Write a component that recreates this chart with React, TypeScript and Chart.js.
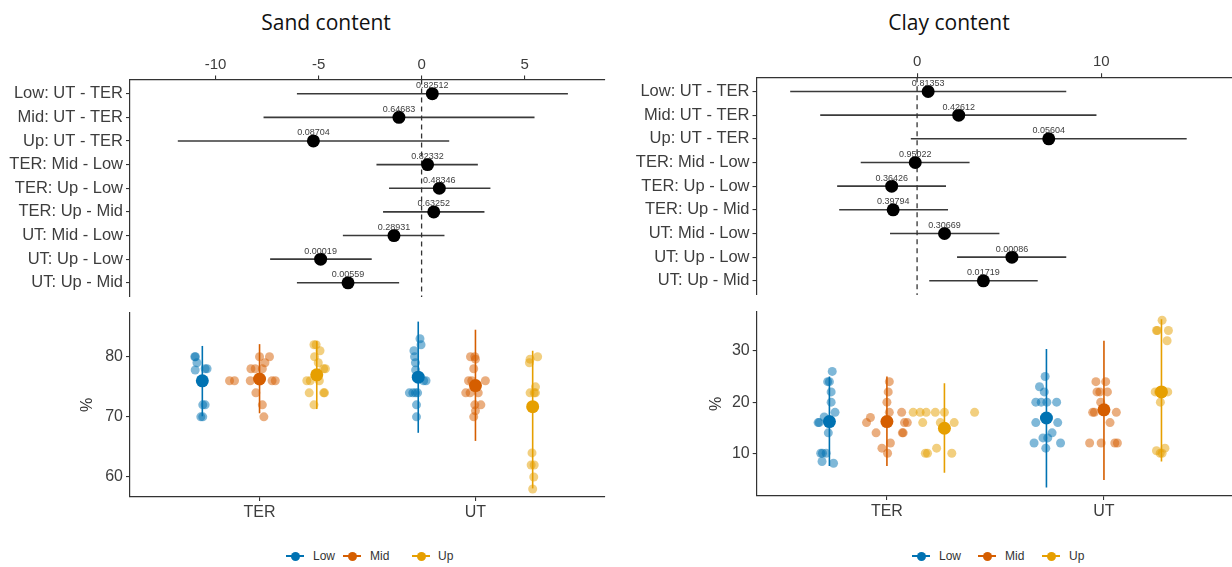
import React, { useEffect, useRef } from 'react';
import { Chart, registerables } from 'chart.js';
Chart.register(...registerables);

// ---------- contrast (forest) data ----------
const contrastLabels = [
  'Low: UT - TER', 'Mid: UT - TER', 'Up: UT - TER',
  'TER: Mid - Low', 'TER: Up - Low', 'TER: Up - Mid',
  'UT: Mid - Low', 'UT: Up - Low', 'UT: Up - Mid',
];

const sandDiff = [0.52, -1.1, -5.25, 0.29, 0.86, 0.59, -1.34, -4.9, -3.57];
const sandLwr = [-6.05, -7.67, -11.83, -2.19, -1.58, -1.87, -3.82, -7.35, -6.05];
const sandUpr = [7.1, 5.48, 1.34, 2.73, 3.34, 3.05, 1.11, -2.42, -1.09];
const sandP = ['0.82512', '0.64683', '0.08704', '0.82332', '0.48346', '0.63252', '0.28931', '0.00019', '0.00559'];

const clayDiff = [0.6, 2.26, 7.15, -0.1, -1.38, -1.3, 1.49, 5.15, 3.6];
const clayLwr = [-6.89, -5.26, -0.34, -3.06, -4.34, -4.23, -1.47, 2.17, 0.66];
const clayUpr = [8.1, 9.74, 14.64, 2.85, 1.57, 1.68, 4.47, 8.1, 6.55];
const clayP = ['0.81353', '0.42612', '0.05604', '0.95022', '0.36426', '0.39794', '0.30669', '0.00086', '0.01719'];

const sandDiffTicks = [-10, -5, 0, 5];
const clayDiffTicks = [0, 10];

// ---------- raw observations ----------
const sites = ['TER', 'UT'];
const levels = ['Low', 'Mid', 'Up'];
const levelColors = ['#0072B2', '#D55E00', '#E69F00'];

const sandTicks = [60, 70, 80];
const clayTicks = [10, 20, 30];

const sandTerLow = [80, 80, 79, 77.8, 78, 78, 72, 72, 70, 70];
const sandTerLowJit = [-0.035, -0.032, -0.025, -0.033, 0.013, 0.022, 0.002, 0.013, -0.007, 0.002];
const sandTerMid = [80, 80, 79, 78, 78, 78, 76, 76, 76, 76, 76, 74, 72, 70];
const sandTerMidJit = [0, 0.046, 0.025, -0.04, -0.02, 0.013, -0.139, -0.116, -0.043, 0.058, 0.073, -0.017, 0.013, 0.02];
const sandTerUp = [82, 82, 81, 80, 79, 78, 78, 76, 76, 76, 74, 74, 74, 72];
const sandTerUpJit = [-0.013, -0.003, 0.015, -0.01, 0.007, 0.032, 0.04, -0.046, -0.03, 0.012, -0.035, 0.032, 0.036, -0.013];
const sandUtLow = [83, 82, 81, 80, 79, 77.8, 76, 76, 74, 74, 74, 74, 72, 70];
const sandUtLowJit = [0.008, 0.013, -0.02, -0.017, -0.013, -0.012, 0.025, 0.036, -0.041, -0.025, -0.013, -0.003, -0.008, -0.008];
const sandUtMid = [80, 80, 79.6, 78, 76, 76, 76, 74, 74, 74, 72, 72, 71, 70];
const sandUtMidJit = [-0.023, -0.003, 0, -0.008, -0.032, -0.017, 0.046, -0.045, -0.025, 0.013, -0.003, 0.025, 0, -0.008];
const sandUtUp = [79.6, 79, 80, 75, 74, 74, 74, 64, 62, 62, 60, 58];
const sandUtUpJit = [-0.012, -0.015, 0.023, 0.013, -0.012, 0.007, 0.013, -0.003, -0.007, 0.007, 0.005, 0];

// order: TER-Low, TER-Mid, TER-Up, UT-Low, UT-Mid, UT-Up
const sandMean = [76.0, 76.3, 77.0, 76.6, 75.2, 71.7];
const sandRangeLo = [70.1, 70.6, 71.3, 67.35, 66.0, 58.1];
const sandRangeHi = [81.8, 82.1, 82.6, 85.85, 84.5, 81.0];

const clayTerLow = [26, 24, 24, 22, 20, 18, 17.1, 16, 16, 14, 10, 10, 10, 8.4, 8.05];
const clayTerLowJit = [0.013, -0.008, 0, 0.008, 0.008, 0.026, -0.024, -0.052, -0.047, -0.005, -0.04, -0.032, -0.015, -0.034, 0.019];
const clayTerMid = [24, 22, 20, 18, 18, 16, 17, 16, 16, 14, 14, 14, 11, 12, 10];
const clayTerMidJit = [0.011, 0.006, 0, 0.011, 0.068, -0.094, -0.076, 0.081, 0.094, -0.05, 0.071, 0.075, -0.023, 0.016, 0.003];
const clayTerUp = [18, 18, 18, 18, 18, 18, 16, 16, 16, 10, 10, 11, 10];
const clayTerUpJit = [-0.144, -0.112, -0.084, -0.042, 0, 0.139, -0.1, -0.019, 0.045, -0.088, -0.078, -0.036, 0.034];
const clayUtLow = [25, 23, 22, 20, 20, 20, 20, 16, 16, 14, 13, 13, 11, 12, 12];
const clayUtLowJit = [-0.006, -0.032, -0.01, -0.049, -0.024, 0.002, 0.047, -0.049, 0.052, 0.026, -0.016, 0.006, -0.003, -0.057, 0.065];
const clayUtMid = [24, 24, 22, 22, 22, 20, 18, 18, 18, 16, 12, 12, 12, 12];
const clayUtMidJit = [-0.037, 0.008, -0.032, -0.019, 0.016, -0.015, -0.052, -0.044, 0.057, 0.028, -0.066, -0.013, 0.05, 0.062];
const clayUtUp = [36, 34, 34, 34, 32, 22, 22, 22, 20, 10.5, 10, 11, 10];
const clayUtUpJit = [0.003, -0.023, -0.019, 0.032, 0.026, -0.029, -0.013, 0.029, -0.005, -0.023, -0.006, 0.016, 0.003];

const clayMean = [16.2, 16.2, 14.9, 16.9, 18.5, 22.0];
const clayRangeLo = [7.5, 7.5, 6.2, 3.3, 4.8, 8.4];
const clayRangeHi = [25.0, 25.0, 23.7, 30.4, 32.0, 36.2];

// ---------- styling helpers ----------
const FONT = "'Liberation Sans', Arial, sans-serif";
const AXIS = '#333333';
const TICKTXT = '#3d3d3d';
const DODGE = 0.265;

function fixSize(size: number, horizontal: boolean) {
  return (s: any) => {
    if (horizontal) s.height = size; else s.width = size;
    s.paddingLeft = 0; s.paddingRight = 0; s.paddingTop = 0; s.paddingBottom = 0;
  };
}

function axisCommon(fontSize: number) {
  return {
    grid: { display: true, drawOnChartArea: false, drawTicks: true, tickLength: 4, color: AXIS, lineWidth: 1.1 },
    border: { display: true, color: AXIS, width: 1.2 },
    ticks: { color: TICKTXT, font: { family: FONT, size: fontSize }, padding: 3, autoSkip: false, maxRotation: 0 },
  };
}

function forestConfig(o: any) {
  const datasets: any[] = [];
  datasets.push({
    data: o.diff.map((d: number, i: number) => ({ x: d, y: i + 1 })),
    pointRadius: 6.5, pointHoverRadius: 6.5, pointBackgroundColor: '#000', pointBorderWidth: 0, order: 0,
  });
  datasets.push({
    data: [{ x: 0, y: 0.4 }, { x: 0, y: 9.6 }], showLine: true, borderColor: '#333', borderWidth: 1.3,
    borderDash: [5, 4], pointRadius: 0, order: 1,
  });
  o.lwr.forEach((l: number, i: number) => {
    datasets.push({
      data: [{ x: l, y: i + 1 }, { x: o.upr[i], y: i + 1 }], showLine: true, borderColor: '#3a3a3a',
      borderWidth: 1.6, pointRadius: 0, order: 2,
    });
  });
  const xc = axisCommon(15);
  const yc = axisCommon(16.5);
  const pPlugin = {
    id: 'pLabels',
    afterDatasetsDraw(chart: any) {
      const { ctx, scales } = chart;
      ctx.save();
      ctx.font = `9px ${FONT}`;
      ctx.fillStyle = '#404040';
      ctx.textAlign = 'center';
      ctx.textBaseline = 'middle';
      o.p.forEach((t: string, i: number) => {
        ctx.fillText(t, scales.x.getPixelForValue(o.diff[i]), scales.y.getPixelForValue(i + 1) - 8);
      });
      ctx.restore();
    },
  };
  return {
    type: 'scatter',
    data: { datasets },
    plugins: [pPlugin],
    options: {
      animation: false, responsive: false, devicePixelRatio: 1, events: [],
      layout: { autoPadding: false, padding: { left: 0, top: 0, right: o.padRight, bottom: o.padBottom } },
      plugins: { legend: { display: false }, tooltip: { enabled: false } },
      scales: {
        x: {
          type: 'linear', position: 'top', min: o.xmin, max: o.xmax,
          afterBuildTicks: (s: any) => { s.ticks = o.ticks.map((v: number) => ({ value: v })); },
          afterFit: fixSize(o.xH, true),
          grid: xc.grid, border: xc.border,
          ticks: { ...xc.ticks, padding: 2, callback: (v: any) => String(v) },
        },
        y: {
          type: 'linear', reverse: true, min: 0.4, max: 9.6,
          afterBuildTicks: (s: any) => { s.ticks = contrastLabels.map((_, i) => ({ value: i + 1 })); },
          afterFit: fixSize(o.yW, false),
          grid: yc.grid, border: yc.border,
          ticks: { ...yc.ticks, callback: (v: any) => contrastLabels[Math.round(v) - 1] },
        },
      },
    },
  };
}

function dotConfig(o: any) {
  const datasets: any[] = [];
  levels.forEach((lv, li) => {
    const col = levelColors[li];
    datasets.push({
      label: lv,
      data: sites.map((_, si) => ({ x: si + 1 + (li - 1) * DODGE, y: o.mean[si * 3 + li] })),
      pointRadius: 6.5, pointHoverRadius: 6.5, pointBackgroundColor: col, pointBorderWidth: 0, order: 0,
    });
    sites.forEach((_, si) => {
      const c = si + 1 + (li - 1) * DODGE;
      datasets.push({
        data: [{ x: c, y: o.lo[si * 3 + li] }, { x: c, y: o.hi[si * 3 + li] }],
        showLine: true, borderColor: col, borderWidth: 1.6, pointRadius: 0, order: 1,
      });
    });
    const pts: any[] = [];
    sites.forEach((_, si) => {
      const g = o.groups[si * 3 + li];
      const j = o.jits[si * 3 + li];
      const c = si + 1 + (li - 1) * DODGE;
      g.forEach((v: number, k: number) => pts.push({ x: c + j[k], y: v }));
    });
    datasets.push({
      data: pts, pointRadius: 4.5, pointHoverRadius: 4.5, pointBackgroundColor: col + '80',
      pointBorderWidth: 0, order: 2,
    });
  });
  const c = axisCommon(16);
  return {
    type: 'scatter',
    data: { datasets },
    options: {
      animation: false, responsive: false, devicePixelRatio: 1, events: [],
      layout: { autoPadding: false, padding: { left: 0, top: o.padTop, right: o.padRight, bottom: 0 } },
      plugins: { legend: { display: false }, tooltip: { enabled: false } },
      scales: {
        x: {
          type: 'linear', position: 'bottom', min: o.xmin, max: o.xmax,
          afterBuildTicks: (s: any) => { s.ticks = sites.map((_, i) => ({ value: i + 1 })); },
          afterFit: fixSize(o.xH, true),
          grid: c.grid, border: c.border,
          ticks: { ...c.ticks, padding: 2, callback: (v: any) => sites[Math.round(v) - 1] },
        },
        y: {
          type: 'linear', min: o.ymin, max: o.ymax,
          afterBuildTicks: (s: any) => { s.ticks = o.ticks.map((v: number) => ({ value: v })); },
          afterFit: fixSize(o.yW, false),
          grid: c.grid, border: c.border,
          ticks: { ...c.ticks, callback: (v: any) => String(v) },
          title: {
            display: true, text: '%', color: '#333', font: { family: FONT, size: 16 },
            padding: { top: o.titlePad, bottom: 0 },
          },
        },
      },
    },
  };
}

function ChartCanvas({ config, left, top, width, height }: any) {
  const ref = useRef<HTMLCanvasElement>(null);
  useEffect(() => {
    if (!ref.current) return;
    const chart = new Chart(ref.current, config());
    return () => chart.destroy();
  }, []);
  return (
    <canvas ref={ref} width={width} height={height}
      style={{ position: 'absolute', left, top, width, height, display: 'block' }} />
  );
}

function Legend({ markers, texts }: { markers: number[]; texts: number[] }) {
  return (
    <>
      {levels.map((lv, i) => (
        <React.Fragment key={lv}>
          <div style={{ position: 'absolute', left: markers[i] - 9, top: 555, width: 18, height: 2, background: levelColors[i] }} />
          <div style={{ position: 'absolute', left: markers[i] - 4.5, top: 551.5, width: 9, height: 9, borderRadius: '50%', background: levelColors[i] }} />
          <div style={{ position: 'absolute', left: texts[i], top: 549, fontFamily: FONT, fontSize: 12, lineHeight: '14px', color: '#333' }}>{lv}</div>
        </React.Fragment>
      ))}
    </>
  );
}

export default function App() {
  useEffect(() => {
    document.body.style.margin = '0';
    document.body.style.overflow = 'hidden';
  }, []);

  const sandGroups = [sandTerLow, sandTerMid, sandTerUp, sandUtLow, sandUtMid, sandUtUp];
  const sandJits = [sandTerLowJit, sandTerMidJit, sandTerUpJit, sandUtLowJit, sandUtMidJit, sandUtUpJit];
  const clayGroups = [clayTerLow, clayTerMid, clayTerUp, clayUtLow, clayUtMid, clayUtUp];
  const clayJits = [clayTerLowJit, clayTerMidJit, clayTerUpJit, clayUtLowJit, clayUtMidJit, clayUtUpJit];

  const titleStyle: any = {
    position: 'absolute', top: 12, width: 300, textAlign: 'center',
    fontFamily: "'Open Sans', sans-serif", fontSize: 21, lineHeight: '21px', color: '#111',
  };

  return (
    <div style={{ position: 'absolute', left: 0, top: 0, width: 1232, height: 567, background: '#fff', overflow: 'hidden' }}>
      <div style={{ ...titleStyle, left: 326 - 150 }}>Sand content</div>
      <div style={{ ...titleStyle, left: 949 - 150 }}>Clay content</div>

      <ChartCanvas left={0} top={40} width={616} height={265}
        config={() => forestConfig({
          diff: sandDiff, lwr: sandLwr, upr: sandUpr, p: sandP, ticks: sandDiffTicks,
          xmin: -14.15, xmax: 8.9, yW: 130, xH: 39.5, padRight: 11, padBottom: 8,
        })} />
      <ChartCanvas left={616} top={40} width={616} height={265}
        config={() => forestConfig({
          diff: clayDiff, lwr: clayLwr, upr: clayUpr, p: clayP, ticks: clayDiffTicks,
          xmin: -8.72, xmax: 17.1, yW: 140.5, xH: 37.3, padRight: 0, padBottom: 10,
        })} />

      <ChartCanvas left={0} top={300} width={616} height={230}
        config={() => dotConfig({
          groups: sandGroups, jits: sandJits, mean: sandMean, lo: sandRangeLo, hi: sandRangeHi,
          ticks: sandTicks, ymin: 56.67, ymax: 87.28, xmin: 0.4, xmax: 2.6,
          yW: 130, xH: 33, padTop: 13, padRight: 11, titlePad: 78.4,
        })} />
      <ChartCanvas left={616} top={300} width={616} height={230}
        config={() => dotConfig({
          groups: clayGroups, jits: clayJits, mean: clayMean, lo: clayRangeLo, hi: clayRangeHi,
          ticks: clayTicks, ymin: 1.65, ymax: 37.62, xmin: 0.4, xmax: 2.59,
          yW: 140.7, xH: 34, padTop: 12, padRight: 0, titlePad: 91.4,
        })} />

      <Legend markers={[295, 352, 421]} texts={[313, 370, 438]} />
      <Legend markers={[921, 987, 1051]} texts={[939, 1005, 1069]} />
    </div>
  );
}
